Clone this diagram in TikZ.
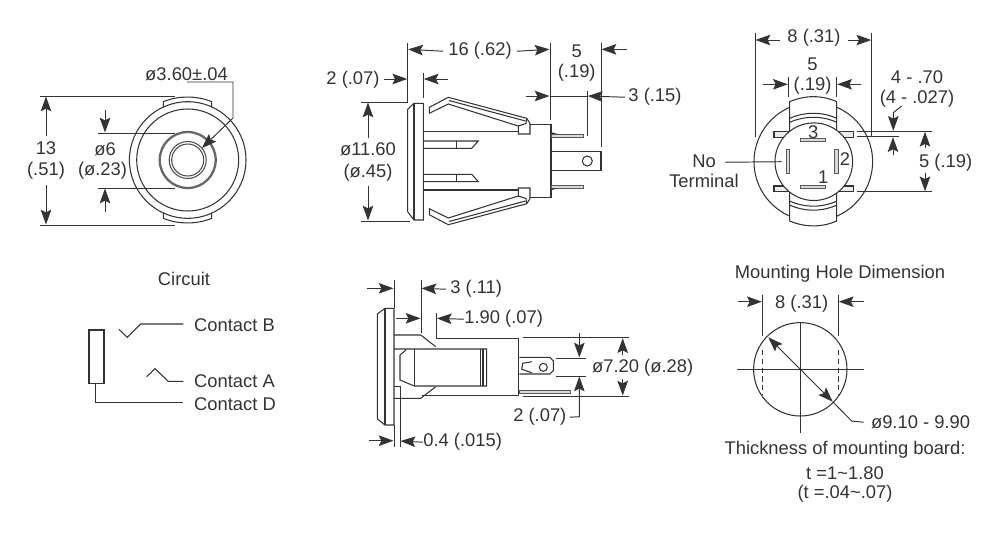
\documentclass[tikz,border=0pt]{standalone}
\usepackage{fontspec}
\setmainfont{Liberation Sans}
\usetikzlibrary{arrows.meta}
\tikzset{
    dimtext/.style={inner sep=0pt, yshift=-0.7pt, text=black!80, font=\fontsize{10.45}{12}\selectfont},
    partline/.style={line width=0.6pt, draw=black!80},
    dimline/.style={line width=0.55pt, draw=black!80},
    dimtip/.style={dimline, ->},
    pinpart/.style={line width=0.5pt, draw=black!65, fill=black!15},
    contactlabel/.style={dimtext, anchor=west, outer xsep=6.2pt}
}
\begin{document}
\begin{tikzpicture}[x=0.02cm, y=-0.02cm, >={Stealth[length=8.4pt, width=6pt, inset=1.5pt]}]
    \useasboundingbox (0,0) rectangle (1000,532);

    % front view
    \draw[partline] (187.7,160) circle (58.3);
    \draw[partline] (187.7,160) circle (51);
    \draw[partline] (163.3,107.3) -- (163.3,101.7) .. controls (178,95.5) and (197,95.5) .. (211.7,101.7) -- (211.7,107.3);
    \draw[partline] (163.3,212.7) -- (163.3,218.3) .. controls (178,224.5) and (197,224.5) .. (211.7,218.3) -- (211.7,212.7);
    \draw[line width=1.3pt, draw=black!60] (187.7,160) circle (28);
    \draw[partline, draw=black!70] (187.7,160) circle (18.5);
    \draw[partline, draw=black!70] (187.7,160) circle (16);
    \node[dimtext] (frontA) at (46,147) {13};
    \node[dimtext] (frontB) at (46,170) {(.51)};
    \node[dimtext] (hubA) at (105,148) {ø6};
    \node[dimtext] (hubB) at (102.5,170) {(ø.23)};
    \node[dimtext] (bore) at (186.5,73) {ø3.60±.04};
    \draw[dimline] (40,96) -- (175,96);
    \draw[dimline] (40,225) -- (175,225);
    \draw[dimtip] (frontA.north) ++(0,-5) -- (46,96.5);
    \draw[dimtip] (frontB.south) ++(0,5) -- (46,224.5);
    \draw[dimline] (98,133) -- (175,133);
    \draw[dimline] (98,188) -- (175,188);
    \draw[dimtip] (105,110) -- (105,132.5);
    \draw[dimtip] (105,212) -- (105,188.5);
    \draw[dimtip] (187,82) -- (233,82) -- (233,118) -- (202,148);

    % side view
    \draw[partline] (414,103.3) -- (423.3,103.3) -- (423.3,220) -- (414,220) -- (407.7,211.7) -- (407.7,109.3) -- cycle;
    \draw[partline] (414,103.3) -- (414,220);
    \draw[partline] (429.3,107.3) -- (448.3,97.3) -- (526.7,118.3) -- (530,123.3) -- (530,134) -- (518.3,134) -- (518.3,126) -- (448.3,104) -- (429.3,113.3) -- cycle;
    \draw[partline] (429.3,214.7) -- (448.3,224.7) -- (526.7,203.7) -- (530,198.7) -- (530,188) -- (518.3,188) -- (518.3,196) -- (448.3,218) -- (429.3,208.7) -- cycle;
    \draw[partline] (449,100.5) -- (525.5,121);
    \draw[partline] (449,221.5) -- (525.5,201);
    \draw[partline] (518.3,126) -- (526,123.5) -- (526.7,118.3);
    \draw[partline] (518.3,196) -- (526,198.5) -- (526.7,203.7);
    \draw[partline] (530,124.3) -- (551,124.3) -- (551,197.7) -- (530,197.7);
    \draw[partline] (423.3,131.7) -- (518.3,131.7);
    \draw[partline] (423.3,190) -- (518.3,190);
    \draw[partline] (423.3,141) -- (478.3,141) -- (471.7,148.3) -- (423.3,148.3);
    \draw[partline] (423.3,181.7) -- (478.3,181.7) -- (471.7,174.3) -- (423.3,174.3);
    \draw[partline] (456.7,141) -- (456.7,148.3);
    \draw[partline] (456.7,174.3) -- (456.7,181.7);
    \draw[pinpart] (551.7,134) rectangle (583.3,137.7);
    \draw[pinpart] (551.7,185) rectangle (583.3,188.3);
    \fill[black!80] (551.7,132.3) -- (558,134) -- (551.7,134) -- cycle;
    \fill[black!80] (551.7,190) -- (558,188.3) -- (551.7,188.3) -- cycle;
    \draw[partline] (551.7,151.7) -- (601,151.7) -- (601,170.7) -- (551.7,170.7);
    \draw[partline] (587.3,161) circle (5);
    \node[dimtext] (flangeA) at (353,79) {2 (.07)};
    \node[dimtext] (sideA) at (480,50) {16 (.62)};
    \node[dimtext] (tabA) at (576.7,50) {5};
    \node[dimtext] (tabB) at (576.7,72) {(.19)};
    \node[dimtext] (pinA) at (655,96) {3 (.15)};
    \node[dimtext] (bodyA) at (368,148) {ø11.60};
    \node[dimtext] (bodyB) at (368,172) {(ø.45)};
    \draw[dimline] (407.7,43) -- (407.7,103);
    \draw[dimline] (423.3,72.7) -- (423.3,98);
    \draw[dimline] (550,43) -- (550,120);
    \draw[dimline] (601,43) -- (601,146.7);
    \draw[dimline] (587.3,91) -- (587.3,136);
    \draw[dimtip] (sideA.west) ++(-5,0) -- (408.2,49.3);
    \draw[dimtip] (sideA.east) ++(5,0) -- (549.5,49.3);
    \draw[dimtip] (626.7,49.3) -- (601.5,49.3);
    \draw[dimtip] (384,79) -- (407.2,79);
    \draw[dimtip] (448.3,79) -- (423.8,79);
    \draw[dimtip] (525.7,96) -- (549.5,96);
    \draw[dimline] (550,96) -- (587.3,96);
    \draw[dimtip] (pinA.west) ++(-3,0) -- (587.8,96);
    \draw[dimline] (360.7,102) -- (408,102);
    \draw[dimline] (360.7,221) -- (410,221);
    \draw[dimtip] (bodyA.north) ++(0,-4) -- (368,102.5);
    \draw[dimtip] (bodyB.south) ++(0,4) -- (368,220.5);

    % rear view
    \draw[partline] (813.3,161.7) circle (59.3);
    \draw[partline, fill=white] (789.7,132) -- (789.7,101.7) .. controls (805,95) and (822,95) .. (836.7,101.7) -- (836.7,132);
    \draw[partline, fill=white] (789.7,191.4) -- (789.7,221) .. controls (805,227.5) and (822,227.5) .. (836.7,221) -- (836.7,191.4);
    \draw[partline] (789.7,118.3) .. controls (805,111.6) and (822,111.6) .. (836.7,118.3);
    \draw[partline] (789.7,122.3) .. controls (805,115.6) and (822,115.6) .. (836.7,122.3);
    \draw[partline] (789.7,205.1) .. controls (805,211.8) and (822,211.8) .. (836.7,205.1);
    \draw[partline] (789.7,201.1) .. controls (805,207.8) and (822,207.8) .. (836.7,201.1);
    \draw[partline, fill=black!8] (774,131.7) rectangle (853.3,137.5);
    \draw[partline, fill=black!8] (774,186) rectangle (853.3,191.7);
    \draw[partline, fill=white] (813.8,161.7) circle (38.8);
    \draw[pinpart] (800.7,138) rectangle (825.7,141.5);
    \draw[pinpart] (800.7,185) rectangle (825.7,188.3);
    \draw[pinpart] (786.3,149) rectangle (789.6,173.7);
    \draw[pinpart] (834.7,149) rectangle (838,173.7);
    \node[dimtext] (numC) at (813.3,131) {3};
    \node[dimtext] (numA) at (823.3,176) {1};
    \node[dimtext] (numB) at (845,158.3) {2};
    \node[dimtext] (noA) at (704,160) {No};
    \node[dimtext, anchor=east] (noB) at (739,180) {Terminal};
    \node[dimtext] (rearA) at (814,37) {8 (.31)};
    \node[dimtext] (slotA) at (812.5,63) {5};
    \node[dimtext] (slotB) at (812.5,85) {(.19)};
    \node[dimtext] (thinA) at (917,76) {4 - .70};
    \node[dimtext] (thinB) at (917,98) {(4 - .027)};
    \node[dimtext] (rearB) at (945.7,161.7) {5 (.19)};
    \draw[dimline] (noA.east) ++(9,1) -- (781.7,161.7);
    \draw[dimline] (755,33.3) -- (755,137.3);
    \draw[dimline] (871.7,33.3) -- (871.7,137.3);
    \draw[dimtip] (780,40) -- (755.5,40);
    \draw[dimtip] (848,40) -- (871.2,40);
    \draw[dimline] (788.3,76.7) -- (788.3,96.7);
    \draw[dimline] (836.7,76.7) -- (836.7,96.7);
    \draw[dimtip] (763,84.3) -- (787.8,84.3);
    \draw[dimtip] (861,84.3) -- (837.2,84.3);
    \draw[dimtip] (901.7,106) -- (893.3,112.7) -- (893.3,130.8);
    \draw[dimtip] (893,155) -- (893,137.2);
    \draw[dimline] (856.7,131.3) -- (931.7,131.3);
    \draw[dimline] (856.7,136.7) -- (899.3,136.7);
    \draw[dimline] (856.7,191.7) -- (931.7,191.7);
    \draw[dimtip] (925,148.3) -- (925,131.8);
    \draw[dimtip] (925,173) -- (925,191.2);

    % circuit
    \node[dimtext] (circuit) at (184,278) {Circuit};
    \node[contactlabel] (contactB) at (183.3,323.5) {Contact B};
    \node[contactlabel] (contactA) at (183.3,379.5) {Contact A};
    \node[contactlabel] (contactD) at (183.3,402.7) {Contact D};
    \draw[partline] (89,330) rectangle (104,383.3);
    \draw[partline] (95.3,383.3) -- (95.3,402.7) -- (contactD.west |- 0,402.7);
    \draw[partline] (119,329.3) -- (127.3,337.3) -- (140.7,324) -- (contactB.west |- 0,324);
    \draw[partline] (146.7,376.7) -- (155,368.7) -- (168.3,381.3) -- (contactA.west |- 0,381.3);

    % section view
    \draw[partline] (385,308.3) -- (394,308.3) -- (394,425) -- (385,425) -- (377.3,419) -- (377.3,314) -- cycle;
    \draw[partline] (385,308.3) -- (385,425);
    \draw[partline] (394,335) -- (420.7,335) -- (435.7,346.7);
    \draw[partline] (394,398.3) -- (420.7,398.3) -- (435.7,386.7);
    \draw[partline] (421.7,395.5) -- (518.3,395.5) -- (518.3,338.3) -- (436,338.3);
    \draw[partline] (394,349) -- (486.7,349) -- (486.7,386) -- (414.3,386) -- (400,380) -- (400,355) -- (406,350);
    \draw[partline] (414.3,349) -- (414.3,386);
    \draw[partline] (480.7,349) -- (480.7,386);
    \draw[partline] (483,349) -- (483,386);
    \draw[partline] (394,386.7) -- (400,386.7);
    \draw[partline] (519.3,357.3) -- (550,357.3) -- (553.3,361) -- (553.3,370.5) -- (550,374) -- (519.3,374);
    \draw[partline] (531.7,361.7) -- (522.7,363.3) -- (521.7,369.3) -- (531.7,372.7);
    \draw[partline] (543.3,367.3) circle (4);
    \draw[pinpart] (519.3,390) rectangle (570,393.3);
    \node[dimtext, anchor=west] (secA) at (450,288) {3 (.11)};
    \node[dimtext, anchor=west] (secB) at (464,318) {1.90 (.07)};
    \node[dimtext, anchor=east] (secC) at (566.7,416) {2 (.07)};
    \node[dimtext] (secD) at (642.7,367) {ø7.20 (ø.28)};
    \node[dimtext, anchor=west] (secE) at (423,441) {0.4 (.015)};
    \draw[dimline] (394,280) -- (394,308.3);
    \draw[dimline] (421,280) -- (421,333.3);
    \draw[dimline] (436.3,312.7) -- (436.3,338);
    \draw[dimline] (400,386) -- (400,446.7);
    \draw[dimline] (394,425) -- (394,446.7);
    \draw[dimtip] (366.7,288.3) -- (393.5,288.3);
    \draw[dimtip] (secA.west) ++(-4,0) -- (421.5,288.3);
    \draw[dimtip] (396,318.3) -- (420.5,318.3);
    \draw[dimtip] (secB.west) -- (436.8,318.3);
    \draw[dimline] (522.7,337.7) -- (629.3,337.7);
    \draw[dimline] (522.7,396) -- (629.3,396);
    \draw[dimline] (556,358) -- (586,358);
    \draw[dimline] (556,376) -- (586,376);
    \draw[dimtip] (579.3,333.3) -- (579.3,357.5);
    \draw[dimtip] (secC.east) ++(3,0) -- (579.3,416.7) -- (579.3,376.5);
    \draw[dimtip] (622.7,355) -- (622.7,338.2);
    \draw[dimtip] (622.7,379) -- (622.7,395.5);
    \draw[dimtip] (369.3,440.7) -- (393.5,440.7);
    \draw[dimtip] (secE.west) -- (400.5,441);

    % mounting hole
    \node[dimtext] (holeTitle) at (840,272.7) {Mounting Hole Dimension};
    \node[dimtext] (holeA) at (801.7,302.7) {8 (.31)};
    \node[dimtext, anchor=west] (holeB) at (870.7,421) {ø9.10 - 9.90};
    \node[dimtext] (boardA) at (845,449) {Thickness of mounting board:};
    \node[dimtext] (boardB) at (845,472) {t =1\textasciitilde 1.80};
    \node[dimtext] (boardC) at (845,493) {(t =.04\textasciitilde .07)};
    \draw[partline] (800.3,369.3) circle (46.7);
    \draw[dimline] (736.7,369.3) -- (864,369.3);
    \draw[dimline] (800.3,322.7) -- (800.3,433.3);
    \draw[dimline, densely dashed] (762.3,350) -- (762.3,395);
    \draw[dimline, densely dashed] (838.3,350) -- (838.3,395);
    \draw[dimline] (762.3,295) -- (762.3,336);
    \draw[dimline] (838.3,295) -- (838.3,336);
    \draw[dimtip] (737.7,301.7) -- (761.8,301.7);
    \draw[dimtip] (864,301.7) -- (838.8,301.7);
    \draw[dimline, <->] (768.3,337.3) -- (832.7,401.7);
    \draw[dimline] (832.7,401.7) -- (851.7,421) -- ([xshift=-4pt]holeB.west);
\end{tikzpicture}
\end{document}
